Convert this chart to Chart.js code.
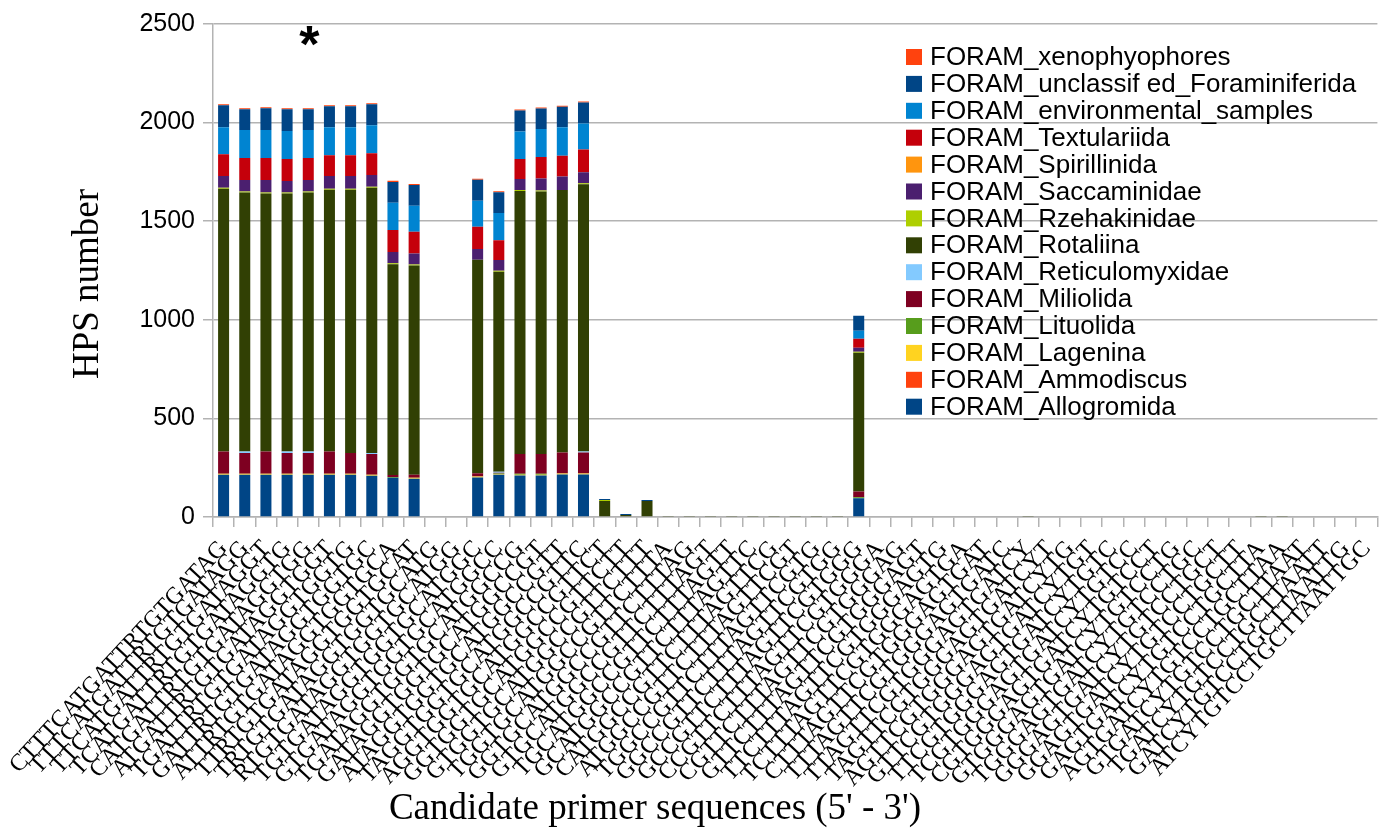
<!DOCTYPE html>
<html>
<head>
<meta charset="utf-8">
<script src="https://cdn.jsdelivr.net/npm/chart.js@4.4.1/dist/chart.umd.min.js"></script>
<style>
  html, body { margin: 0; padding: 0; background: #ffffff; }
  #wrap { width: 1396px; height: 831px; }
</style>
</head>
<body>
<div id="wrap"><canvas id="chart" width="1396" height="831"></canvas></div>
<script>
// Candidate primer sequences (5' -> 3'), one per bar
const primers = [
  "CTTTCATGATTRTGTGATAG", "TTTCATGATTRTGTGATAGG", "TTCATGATTRTGTGATAGGT", "TCATGATTRTGTGATAGGTG",
  "CATGATTRTGTGATAGGTGG", "ATGATTRTGTGATAGGTGGT", "TGATTRTGTGATAGGTGGTG", "GATTRTGTGATAGGTGGTGC",
  "ATTRTGTGATAGGTGGTGCA", "TTRTGTGATAGGTGGTGCAT", "TRTGTGATAGGTGGTGCATG", "RTGTGATAGGTGGTGCATGG",
  "TGTGATAGGTGGTGCATGGC", "GTGATAGGTGGTGCATGGCC", "TGATAGGTGGTGCATGGCCG", "GATAGGTGGTGCATGGCCGT",
  "ATAGGTGGTGCATGGCCGTT", "TAGGTGGTGCATGGCCGTTC", "AGGTGGTGCATGGCCGTTCT", "GGTGGTGCATGGCCGTTCTT",
  "GTGGTGCATGGCCGTTCTTT", "TGGTGCATGGCCGTTCTTTA", "GGTGCATGGCCGTTCTTTAG", "GTGCATGGCCGTTCTTTAGT",
  "TGCATGGCCGTTCTTTAGTT", "GCATGGCCGTTCTTTAGTTC", "CATGGCCGTTCTTTAGTTCG", "ATGGCCGTTCTTTAGTTCGT",
  "TGGCCGTTCTTTAGTTCGTG", "GGCCGTTCTTTAGTTCGTGG", "GCCGTTCTTTAGTTCGTGGG", "CCGTTCTTTAGTTCGTGGGA",
  "CGTTCTTTAGTTCGTGGGAG", "GTTCTTTAGTTCGTGGGAGT", "TTCTTTAGTTCGTGGGAGTG", "TCTTTAGTTCGTGGGAGTGA",
  "CTTTAGTTCGTGGGAGTGAT", "TTTAGTTCGTGGGAGTGATC", "TTAGTTCGTGGGAGTGATCY", "TAGTTCGTGGGAGTGATCYT",
  "AGTTCGTGGGAGTGATCYTG", "GTTCGTGGGAGTGATCYTGT", "TTCGTGGGAGTGATCYTGTC", "TCGTGGGAGTGATCYTGTCC",
  "CGTGGGAGTGATCYTGTCCT", "GTGGGAGTGATCYTGTCCTG", "TGGGAGTGATCYTGTCCTGC", "GGGAGTGATCYTGTCCTGCT",
  "GGAGTGATCYTGTCCTGCTT", "GAGTGATCYTGTCCTGCTTA", "AGTGATCYTGTCCTGCTTAA", "GTGATCYTGTCCTGCTTAAT",
  "TGATCYTGTCCTGCTTAATT", "GATCYTGTCCTGCTTAATTG", "ATCYTGTCCTGCTTAATTGC"
];

// HPS counts per taxon, one value per primer (rows of ten)
const allogromida = [214,214,214,214,214,214,214,209,199,194, 0,0,200,214,211,211,216,216,0,0, 0,0,0,0,0,0,0,0,0,0, 95,0,0,0,0,0,0,0,0,0, 0,0,0,0,0,0,0,0,0,0, 0,0,0,0,0];
const ammodiscus  = [0,0,0,0,0,0,0,0,0,0, 0,0,0,0,0,0,0,0,0,0, 0,0,0,0,0,0,0,0,0,0, 0,0,0,0,0,0,0,0,0,0, 0,0,0,0,0,0,0,0,0,0, 0,0,0,0,0];
const lagenina    = [5,5,5,5,5,5,5,5,0,5, 0,0,5,3,3,3,5,5,0,0, 0,0,0,0,0,0,0,0,0,0, 0,0,0,0,0,0,0,0,0,0, 0,0,0,0,0,0,0,0,0,0, 0,0,0,0,0];
const lituolida   = [0,0,0,0,0,0,0,0,4,0, 0,0,0,3,5,5,0,0,0,0, 0,0,0,0,0,0,0,0,0,0, 5,0,0,0,0,0,0,0,0,0, 0,0,0,0,0,0,0,0,0,0, 0,0,0,0,0];
const miliolida   = [113,106,113,106,106,113,106,106,10,15, 0,0,17,5,101,101,106,106,0,0, 0,0,0,0,0,0,0,0,0,0, 29,0,0,0,0,0,0,0,0,0, 0,0,0,0,0,0,0,0,0,0, 0,0,0,0,0];
const reticulomyxidae = [0,7,0,7,7,0,0,5,0,0, 0,0,0,5,0,0,0,5,0,0, 0,0,0,0,0,0,0,0,0,0, 0,0,0,0,0,0,0,0,0,0, 0,0,0,0,0,0,0,0,0,0, 0,0,0,0,0];
const rotaliina   = [1333,1313,1308,1308,1313,1328,1335,1345,1069,1061, 0,0,1083,1014,1333,1331,1331,1355,81,10, 81,2,2,2,2,2,2,2,2,2, 704,0,0,0,0,0,0,0,2,0, 0,0,0,0,0,0,0,0,0,2, 2,0,0,0,0];
const rzehakinidae = [5,5,5,5,5,5,5,5,5,5, 0,0,0,5,5,5,0,5,5,0, 0,0,0,0,0,0,0,0,0,0, 5,0,0,0,0,0,0,0,0,0, 0,0,0,0,0,0,0,0,0,0, 0,0,0,0,0];
const saccaminidae = [59,59,64,59,59,64,64,59,57,56, 0,0,54,54,56,61,69,56,0,0, 0,0,0,0,0,0,0,0,0,0, 20,0,0,0,0,0,0,0,0,0, 0,0,0,0,0,0,0,0,0,0, 0,0,0,0,0];
const spirillinida = [0,0,0,0,0,0,0,0,0,0, 0,0,0,0,0,0,0,0,0,0, 0,0,0,0,0,0,0,0,0,0, 0,0,0,0,0,0,0,0,0,0, 0,0,0,0,0,0,0,0,0,0, 0,0,0,0,0];
const textulariida = [111,111,111,111,111,106,106,111,112,110, 0,0,113,101,101,108,105,115,0,0, 0,0,0,0,0,0,0,0,0,0, 46,0,0,0,0,0,0,0,0,0, 0,0,0,0,0,0,0,0,0,0, 0,0,0,0,0];
const environmentalSamples = [137,142,142,142,142,142,142,142,137,132, 0,0,132,137,140,142,144,133,0,0, 0,0,0,0,0,0,0,0,0,0, 41,0,0,0,0,0,0,0,0,0, 0,0,0,0,0,0,0,0,0,0, 0,0,0,0,0];
const unclassified = [111,106,111,111,106,106,106,106,106,106, 0,0,106,106,106,105,105,106,5,5, 5,0,0,0,0,0,0,0,0,0, 76,0,0,0,0,0,0,0,0,0, 0,0,0,0,0,0,0,0,0,0, 0,0,0,0,0];
const xenophyophores = [5,5,5,5,5,5,5,5,6,5, 0,0,5,5,5,5,5,5,0,0, 0,0,0,0,0,0,0,0,0,0, 0,0,0,0,0,0,0,0,0,0, 0,0,0,0,0,0,0,0,0,0, 0,0,0,0,0];

// y-axis tick values
const yTicks = [0, 500, 1000, 1500, 2000, 2500];
// primer highlighted with an asterisk
const markedPrimer = 4;

// stacking order: first entry sits at the bottom of each bar
const series = [
  ["FORAM_Allogromida", allogromida, "#004586"],
  ["FORAM_Ammodiscus", ammodiscus, "#ff420e"],
  ["FORAM_Lagenina", lagenina, "#ffd320"],
  ["FORAM_Lituolida", lituolida, "#579d1c"],
  ["FORAM_Miliolida", miliolida, "#7e0021"],
  ["FORAM_Reticulomyxidae", reticulomyxidae, "#83caff"],
  ["FORAM_Rotaliina", rotaliina, "#314004"],
  ["FORAM_Rzehakinidae", rzehakinidae, "#aecf00"],
  ["FORAM_Saccaminidae", saccaminidae, "#4b1f6f"],
  ["FORAM_Spirillinida", spirillinida, "#ff950e"],
  ["FORAM_Textulariida", textulariida, "#c5000b"],
  ["FORAM_environmental_samples", environmentalSamples, "#0084d1"],
  ["FORAM_unclassif ed_Foraminiferida", unclassified, "#004586"],
  ["FORAM_xenophyophores", xenophyophores, "#ff420e"]
];

const xTitle = "Candidate primer sequences (5' - 3')";
const yTitle = "HPS number";

const GRID = "#b3b3b3";
const SANS = "'Liberation Sans', Arial, sans-serif";
const SERIF = "'Liberation Serif', 'Times New Roman', serif";

// legend drawn inside the plot, last series on top
const innerLegend = {
  id: "innerLegend",
  afterDraw(chart) {
    const ctx = chart.ctx;
    const items = chart.data.datasets.slice().reverse();
    ctx.save();
    ctx.font = "26px " + SANS;
    ctx.textBaseline = "middle";
    ctx.textAlign = "left";
    items.forEach((ds, i) => {
      const cy = 57 + i * 26.9;
      ctx.fillStyle = ds.backgroundColor;
      ctx.fillRect(906, cy - 8, 16, 16);
      ctx.fillStyle = "#000000";
      ctx.fillText(ds.label, 930, cy + 1);
    });
    ctx.restore();
  }
};

// axis titles, placed in the margins around the plot
const axisTitles = {
  id: "axisTitles",
  afterDraw(chart) {
    const ctx = chart.ctx;
    ctx.save();
    ctx.fillStyle = "#000000";
    ctx.font = "37px " + SERIF;
    ctx.textAlign = "center";
    ctx.textBaseline = "middle";
    ctx.fillText(xTitle, 655, 809);
    ctx.translate(88, 284);
    ctx.rotate(-Math.PI / 2);
    ctx.fillText(yTitle, 0, 0);
    ctx.restore();
  }
};

// asterisk over the highlighted primer
const starMark = {
  id: "starMark",
  afterDatasetsDraw(chart) {
    const ctx = chart.ctx;
    const x = chart.scales.x.getPixelForValue(markedPrimer);
    const y = chart.scales.y.getPixelForValue(2500);
    ctx.save();
    ctx.font = "bold 52px " + SANS;
    ctx.textAlign = "center";
    ctx.textBaseline = "alphabetic";
    ctx.fillStyle = "#000000";
    ctx.fillText("*", x + 1, y + 38);
    ctx.restore();
  }
};

new Chart(document.getElementById("chart"), {
  type: "bar",
  data: {
    labels: primers,
    datasets: series.map(([label, data, color]) => ({
      label, data,
      backgroundColor: color,
      borderWidth: 0,
      categoryPercentage: 1,
      barPercentage: 0.52
    }))
  },
  options: {
    responsive: false,
    animation: false,
    layout: { padding: { top: 24, right: 12, left: 0, bottom: 0 } },
    plugins: { legend: { display: false }, tooltip: { enabled: false } },
    scales: {
      x: {
        stacked: true,
        grid: { offset: true, drawOnChartArea: false, drawTicks: true, tickLength: 10, color: GRID, lineWidth: 1.5 },
        border: { color: GRID, width: 1.5 },
        ticks: {
          autoSkip: false, minRotation: 47, maxRotation: 47, padding: 8,
          color: "#000000", font: { family: SERIF, size: 24 }
        },
        afterFit(scale) { scale.height = 314; }
      },
      y: {
        stacked: true, min: 0, max: 2500,
        afterBuildTicks(scale) { scale.ticks = yTicks.map(v => ({ value: v })); },
        grid: { color: GRID, lineWidth: 1.5, tickLength: 10 },
        border: { color: GRID, width: 1.5 },
        ticks: {
          color: "#000000", padding: 8, font: { family: SANS, size: 25 },
          callback: (v) => String(v)
        },
        afterFit(scale) { scale.width = 213; }
      }
    }
  },
  plugins: [innerLegend, axisTitles, starMark]
});
</script>
</body>
</html>
